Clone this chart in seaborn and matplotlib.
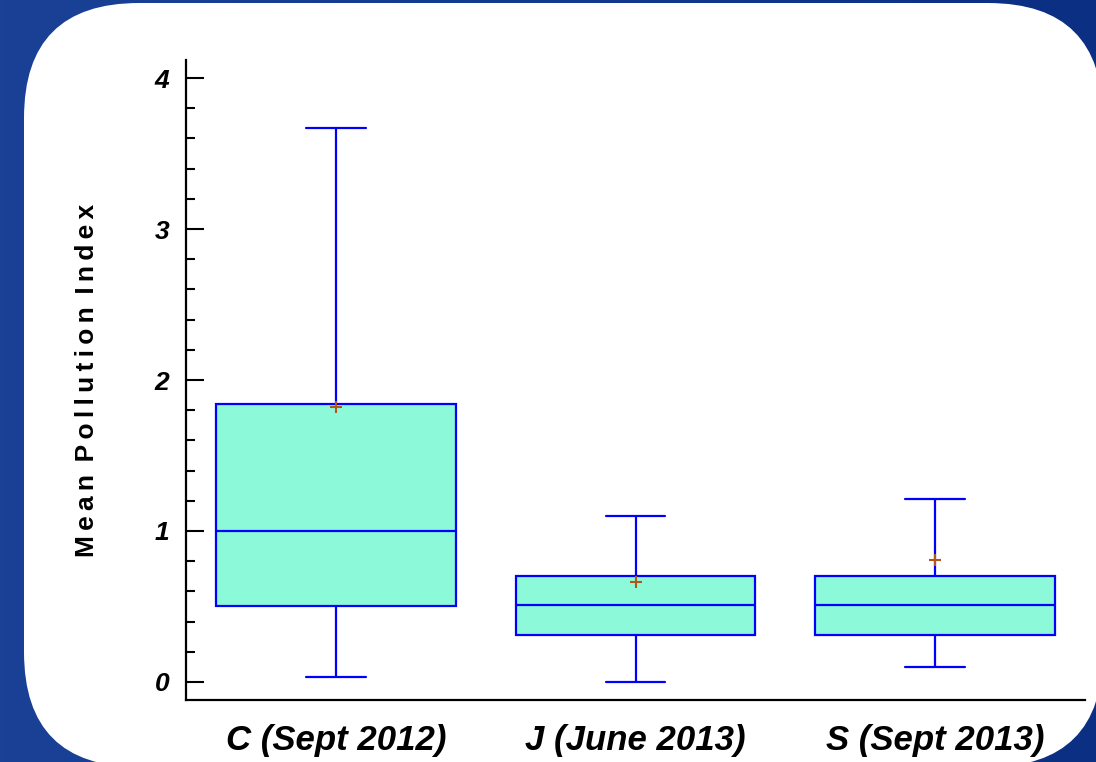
"""
Mean Pollution Index box plot
"""

import numpy as np
import pandas as pd
import matplotlib
matplotlib.use("Agg")
import matplotlib.pyplot as plt
from matplotlib.patches import FancyBboxPatch
from matplotlib.colors import LinearSegmentedColormap
from matplotlib.ticker import MultipleLocator, AutoMinorLocator
import seaborn as sns

# Data: min, Q1, median, Q3, max per sample
groups = ['C (Sept 2012)', 'J (June 2013)', 'S (Sept 2013)']
c_summary = [0.03, 0.50, 1.00, 1.84, 3.67]
j_summary = [0.00, 0.31, 0.51, 0.70, 1.10]
s_summary = [0.10, 0.31, 0.51, 0.70, 1.21]
means = [1.82, 0.66, 0.81]

df = pd.DataFrame({
    'group': [groups[0]] * 5 + [groups[1]] * 5 + [groups[2]] * 5,
    'value': c_summary + j_summary + s_summary,
})

sns.set_style('white')
plt.rcParams['font.family'] = ['Liberation Sans', 'DejaVu Sans']
plt.rcParams['text.color'] = 'black'
plt.rcParams['xtick.color'] = 'black'
plt.rcParams['ytick.color'] = 'black'
plt.rcParams['axes.labelcolor'] = 'black'

W, H = 1096, 762
fig = plt.figure(figsize=(W / 100, H / 100), dpi=100)

# Blue slide background with a white rounded card
bg = fig.add_axes([0, 0, 1, 1], zorder=-10)
cmap = LinearSegmentedColormap.from_list('bg', ['#1a4196', '#123a8e', '#0b2f82'])
grad = np.tile(np.linspace(0, 1, 256), (16, 1))
bg.imshow(grad, cmap=cmap, aspect='auto', extent=[0, W, H, 0])
card = FancyBboxPatch((24, 3), 1079, 764, boxstyle='round,pad=0,rounding_size=115',
                      facecolor='white', edgecolor='none')
bg.add_patch(card)
bg.set_xlim(0, W)
bg.set_ylim(H, 0)
bg.axis('off')

# Plot area
ax = fig.add_axes([186 / W, 62 / H, 899 / W, 640 / H])
ax.set_facecolor('none')

blue = '#0000ff'
sns.boxplot(data=df, x='group', y='value', order=groups, whis=(0, 100),
            width=0.8, color='#8cfad8', linecolor=blue, linewidth=1.6,
            capwidths=0.2, saturation=1, ax=ax)
for p in ax.patches:
    p.set_facecolor('#8cfad8')
    p.set_edgecolor(blue)

sns.scatterplot(x=groups, y=means, marker='+', color='#b0581c', s=70,
                linewidth=1.5, zorder=5, ax=ax)

ax.set_xlim(-0.5, 2.5)
ax.set_ylim(-0.12, 4.12)
ax.yaxis.set_major_locator(MultipleLocator(1))
ax.yaxis.set_minor_locator(AutoMinorLocator(5))
ax.tick_params(axis='y', which='both', left=True)
ax.tick_params(axis='y', which='major', direction='in', length=13, width=1.5,
               pad=12, labelsize=19)
ax.tick_params(axis='y', which='minor', direction='in', length=6.5, width=1.5)
ax.tick_params(axis='x', length=0, pad=17, labelsize=25)
for lab in ax.get_yticklabels() + ax.get_xticklabels():
    lab.set_fontweight('bold')
    lab.set_fontstyle('italic')

for side in ['top', 'right']:
    ax.spines[side].set_visible(False)
for side in ['left', 'bottom']:
    ax.spines[side].set_color('black')
    ax.spines[side].set_linewidth(1.6)

ax.set_xlabel('')
gap = '\u2009'
ylab = (' ' + gap).join(gap.join(w) for w in ['Mean', 'Pollution', 'Index'])
ax.set_ylabel(ylab, fontsize=19, fontweight='bold', labelpad=40)

fig.savefig('out.png', dpi=100)
